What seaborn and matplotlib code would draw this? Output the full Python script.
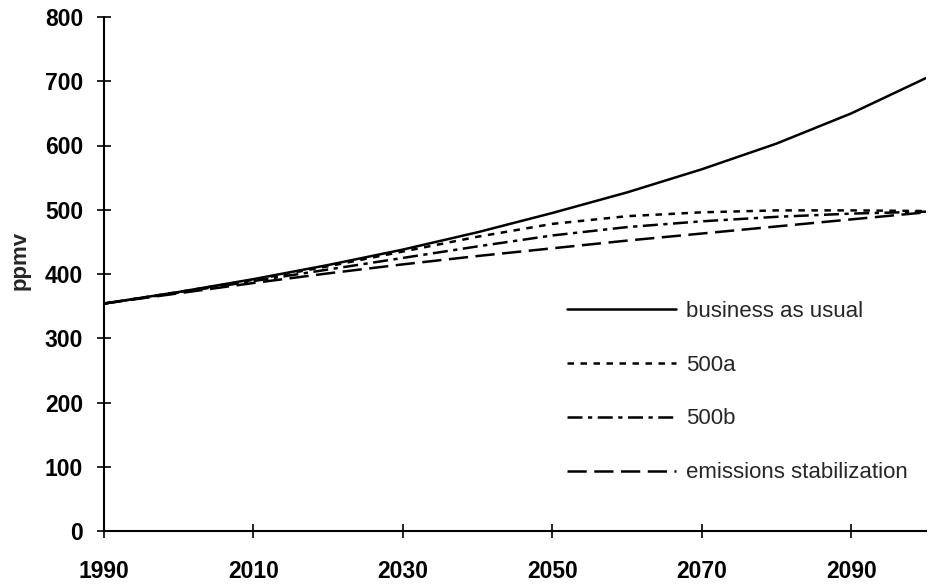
import pandas as pd
import matplotlib.pyplot as plt
import seaborn as sns

sns.set_style("ticks")
plt.rcParams["font.family"] = ["Liberation Sans", "DejaVu Sans"]

years = [1990, 2000, 2010, 2020, 2030, 2040, 2050, 2060, 2070, 2080, 2090, 2100]
bau = [354, 372, 392, 414, 438, 465, 495, 527, 563, 603, 650, 705]
s500a = [354, 372, 391, 412, 435, 458, 478, 490, 496, 499, 499, 498]
s500b = [354, 371, 389, 407, 425, 443, 460, 473, 482, 489, 494, 497]
emis = [354, 370, 386, 401, 415, 428, 440, 452, 463, 474, 485, 496]

names = ["business as usual", "500a", "500b", "emissions stabilization"]
series = [bau, s500a, s500b, emis]
dash_styles = [None, (2.6, 2.6), (6.0, 2.2, 1.7, 2.2), (7.7, 3.0)]

xticks = [1990, 2010, 2030, 2050, 2070, 2090]
yticks = [0, 100, 200, 300, 400, 500, 600, 700, 800]

fig = plt.figure(figsize=(9.29, 5.84), dpi=100)
ax = fig.add_axes([104 / 929, 53 / 584, 822 / 929, 514 / 584])

for name, vals, d in zip(names, series, dash_styles):
    df = pd.DataFrame({"year": years, "ppmv": vals})
    sns.lineplot(data=df, x="year", y="ppmv", ax=ax, color="black",
                 linewidth=1.8, label=name)
    if d is not None:
        ax.lines[-1].set_dashes(d)

ax.set_xlim(1990, 2100)
ax.set_ylim(0, 800)
ax.set_xticks(xticks)
ax.set_yticks(yticks)
ax.set_xlabel("")
ax.set_ylabel("")
sns.despine(ax=ax)
for s in ["left", "bottom"]:
    ax.spines[s].set_linewidth(1.5)
    ax.spines[s].set_color("black")

ax.tick_params(axis="both", direction="inout", length=10, width=1.2,
               colors="black", labelsize=16.5)
ax.tick_params(axis="x", pad=16)
ax.tick_params(axis="y", pad=10)
for lab in ax.get_xticklabels() + ax.get_yticklabels():
    lab.set_fontweight("bold")

fig.text(20 / 929, 1 - 260 / 584, "ppmv", rotation=90, ha="center",
         va="center", fontsize=16, fontweight="bold")

ax.legend(loc="center left", bbox_to_anchor=(567 / 929, 1 - 392 / 584),
          bbox_transform=fig.transFigure, frameon=False, fontsize=16,
          handlelength=4.9, handletextpad=0.45, labelspacing=1.48,
          borderpad=0, borderaxespad=0)

fig.savefig("out.png", dpi=100)
